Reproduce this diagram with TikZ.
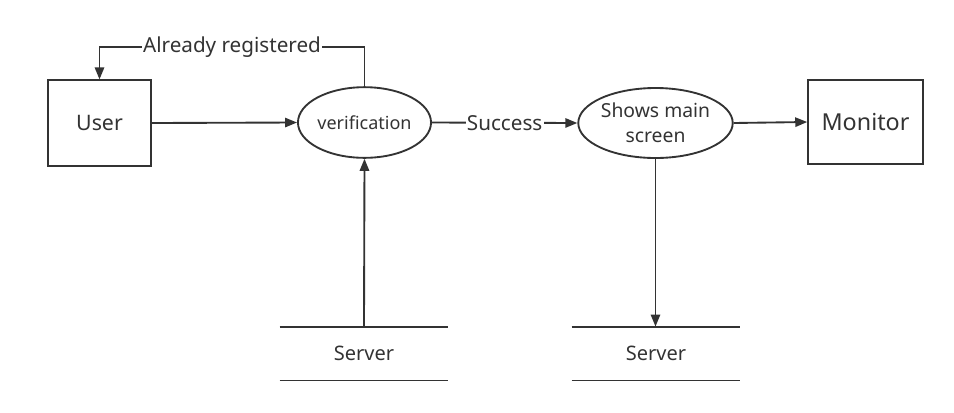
\documentclass[tikz,border=0pt]{standalone}
\usepackage{fontspec}
\setmainfont{Noto Sans}
\usetikzlibrary{arrows.meta,shapes.geometric}
\definecolor{inkcolor}{RGB}{51,51,51}

\begin{document}
\begin{tikzpicture}[x=0.75pt, y=-0.75pt, >={Triangle[length=9pt,width=7pt]},
    every node/.style={text=inkcolor},
    entity/.style={draw=inkcolor, line width=1.4pt, minimum width=77pt, minimum height=64pt, inner sep=0pt},
    process/.style={draw=inkcolor, line width=1.4pt, ellipse, inner sep=0pt},
    store/.style={minimum width=126pt, minimum height=40pt, inner sep=0pt, font=\fontsize{15}{17}\selectfont},
    flow/.style={->, draw=inkcolor, line width=1.4pt},
    flowlabel/.style={fill=white, inner sep=1pt, font=\fontsize{15.5}{17}\selectfont}]
    \useasboundingbox (0,0) rectangle (954,412);
    % --- external entities ---
    \node[entity, font=\fontsize{16}{18}\selectfont] (user) at (99.5,123) {User};
    \node[entity, minimum width=86pt, minimum height=63pt, font=\fontsize{17.5}{20}\selectfont] (monitor) at (865.5,122) {Monitor};
    % --- processes ---
    \node[process, minimum width=97pt, minimum height=53pt, font=\fontsize{13.5}{15}\selectfont] (verif) at (364.5,122.5) {verification};
    \node[process, minimum width=115.5pt, minimum height=52.5pt, align=center, font=\fontsize{14.5}{18.75}\selectfont] (mainscreen) at (655.5,123) {Shows main\\screen};
    % --- data stores ---
    \node[store] (server1) at (364,353.5) {Server};
    \node[store] (server2) at (656,353.5) {Server};
    \foreach \s in {server1,server2} {
      \draw[inkcolor, line width=1.4pt] (\s.north west) -- (\s.north east);
      \draw[inkcolor, line width=1.4pt] (\s.south west) -- (\s.south east);
    }
    % --- flows ---
    \coordinate (backup) at (364.5,47);
    \coordinate (backleft) at (user.north |- backup);
    \draw[flow] (verif.north) -- (backup) -- node[flowlabel]{Already registered} (backleft) -- (user.north);
    \draw[flow] (user.east) -- (verif.west);
    \draw[flow] (verif.east) -- node[flowlabel]{Success} (mainscreen.west);
    \draw[flow] (mainscreen.east) -- (monitor.west);
    \draw[flow] (server1.north) -- (verif.south);
    \draw[flow] (mainscreen.south) -- (mainscreen.south |- server2.north);
\end{tikzpicture}
\end{document}
